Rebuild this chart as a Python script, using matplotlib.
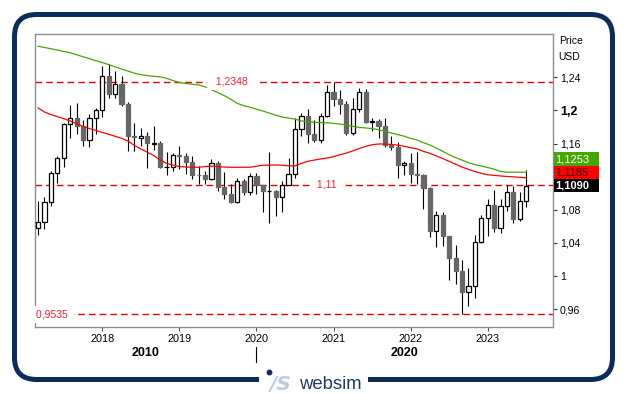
import matplotlib
matplotlib.use('Agg')
import matplotlib.pyplot as plt
from matplotlib.patches import FancyBboxPatch, Rectangle
from matplotlib.transforms import blended_transform_factory
import numpy as np

plt.rcParams['font.family'] = ['Liberation Sans', 'DejaVu Sans']

## monthly EUR/USD candles, Mar 2017 .. Jul 2023
start_year, start_month = 2017, 3
opens = [1.0575, 1.0652, 1.0896, 1.1244, 1.1426, 1.1841, 1.1909, 1.1813, 1.1645, 1.1903,
         1.2005, 1.2414, 1.2194, 1.2324, 1.2079, 1.1693, 1.1665, 1.1690, 1.1600, 1.1604, 1.1312, 1.1316,
         1.1467, 1.1445, 1.1372, 1.1217, 1.1214, 1.1169, 1.1370, 1.1076, 1.0988, 1.0899, 1.1152, 1.1017,
         1.1213, 1.1094, 1.1026, 1.1031, 1.0954, 1.1101, 1.1234, 1.1779, 1.1936, 1.1720, 1.1647, 1.1927,
         1.2217, 1.2136, 1.2075, 1.1728, 1.2018, 1.2227, 1.1858, 1.1870, 1.1809, 1.1578, 1.1559, 1.1338,
         1.1370, 1.1235, 1.1218, 1.1067, 1.0545, 1.0733, 1.0484, 1.0220, 1.0054, 0.9802, 0.9884, 1.0406,
         1.0705, 1.0863, 1.0576, 1.0839, 1.1017, 1.0690, 1.0909]
highs = [1.0906, 1.0950, 1.1268, 1.1446, 1.1846, 1.2070, 1.2092, 1.1880, 1.1961, 1.2023,
         1.2537, 1.2556, 1.2476, 1.2414, 1.2097, 1.1852, 1.1791, 1.1734, 1.1815, 1.1625, 1.1500, 1.1486,
         1.1570, 1.1489, 1.1448, 1.1324, 1.1265, 1.1412, 1.1390, 1.1250, 1.1109, 1.1179, 1.1175, 1.1240,
         1.1239, 1.1096, 1.1496, 1.1038, 1.1147, 1.1422, 1.1909, 1.1966, 1.2011, 1.1881, 1.1965, 1.2310,
         1.2349, 1.2243, 1.2113, 1.2150, 1.2266, 1.2254, 1.1909, 1.1901, 1.1909, 1.1692, 1.1616, 1.1386,
         1.1483, 1.1495, 1.1233, 1.1076, 1.0787, 1.0774, 1.0488, 1.0368, 1.0198, 1.0094, 1.0497, 1.0736,
         1.0929, 1.1033, 1.0930, 1.1095, 1.1092, 1.1012, 1.1276]
lows = [1.0494, 1.0569, 1.0839, 1.1118, 1.1312, 1.1662, 1.1717, 1.1574, 1.1554, 1.1717,
        1.1916, 1.2155, 1.2154, 1.2055, 1.1510, 1.1508, 1.1575, 1.1301, 1.1527, 1.1302, 1.1216, 1.1269,
        1.1289, 1.1234, 1.1176, 1.1111, 1.1107, 1.1160, 1.1026, 1.0926, 1.0879, 1.0879, 1.0981, 1.0981,
        1.0992, 1.0778, 1.0636, 1.0727, 1.0767, 1.1098, 1.1185, 1.1696, 1.1612, 1.1622, 1.1603, 1.1925,
        1.2054, 1.1952, 1.1704, 1.1704, 1.1986, 1.1847, 1.1752, 1.1664, 1.1563, 1.1524, 1.1186, 1.1222,
        1.1121, 1.1106, 1.0806, 1.0471, 1.0349, 1.0359, 0.9952, 0.9901, 0.9535, 0.9632, 0.9730, 1.0393,
        1.0483, 1.0533, 1.0516, 1.0788, 1.0635, 1.0662, 1.0833]
closes = [1.0652, 1.0896, 1.1244, 1.1426, 1.1841, 1.1909, 1.1813, 1.1645, 1.1903, 1.2005,
          1.2414, 1.2194, 1.2324, 1.2079, 1.1693, 1.1684, 1.1690, 1.1603, 1.1604, 1.1312, 1.1316, 1.1467,
          1.1445, 1.1372, 1.1217, 1.1214, 1.1169, 1.1370, 1.1076, 1.0988, 1.0899, 1.1152, 1.1017, 1.1213,
          1.1094, 1.1026, 1.1031, 1.0954, 1.1101, 1.1234, 1.1779, 1.1936, 1.1720, 1.1647, 1.1927, 1.2217,
          1.2136, 1.2075, 1.1728, 1.2018, 1.2227, 1.1858, 1.1870, 1.1809, 1.1578, 1.1559, 1.1338, 1.1370,
          1.1235, 1.1218, 1.1067, 1.0545, 1.0733, 1.0484, 1.0220, 1.0054, 0.9802, 0.9884, 1.0406, 1.0705,
          1.0863, 1.0576, 1.0839, 1.1017, 1.0690, 1.0909, 1.1090]

## moving averages (one value per candle)
ma_long = [1.2775, 1.2760, 1.2745, 1.2728, 1.2712, 1.2697, 1.2673, 1.2648, 1.2625, 1.2600,
           1.2578, 1.2553, 1.2527, 1.2500, 1.2475, 1.2450, 1.2432, 1.2420, 1.2412, 1.2406, 1.2388, 1.2360,
           1.2337, 1.2325, 1.2316, 1.2308, 1.2285, 1.2250, 1.2215, 1.2178, 1.2135, 1.2085, 1.2058, 1.2038,
           1.2015, 1.1993, 1.1967, 1.1942, 1.1920, 1.1907, 1.1895, 1.1873, 1.1862, 1.1858, 1.1853, 1.1849,
           1.1843, 1.1835, 1.1822, 1.1808, 1.1795, 1.1788, 1.1780, 1.1767, 1.1748, 1.1726, 1.1708, 1.1688,
           1.1662, 1.1643, 1.1610, 1.1582, 1.1545, 1.1505, 1.1465, 1.1430, 1.1400, 1.1368, 1.1345, 1.1328,
           1.1310, 1.1290, 1.1262, 1.1253, 1.1253, 1.1253, 1.1253]
ma_short = [1.2030, 1.1980, 1.1950, 1.1925, 1.1900, 1.1873, 1.1840, 1.1806, 1.1780, 1.1758,
            1.1733, 1.1712, 1.1687, 1.1663, 1.1630, 1.1577, 1.1535, 1.1495, 1.1455, 1.1400, 1.1360, 1.1340,
            1.1322, 1.1316, 1.1313, 1.1313, 1.1322, 1.1327, 1.1320, 1.1315, 1.1313, 1.1313, 1.1313, 1.1313,
            1.1325, 1.1337, 1.1339, 1.1340, 1.1338, 1.1330, 1.1329, 1.1360, 1.1385, 1.1400, 1.1413, 1.1425,
            1.1440, 1.1465, 1.1484, 1.1510, 1.1540, 1.1565, 1.1585, 1.1594, 1.1594, 1.1588, 1.1580, 1.1567,
            1.1550, 1.1535, 1.1505, 1.1482, 1.1450, 1.1418, 1.1385, 1.1350, 1.1315, 1.1288, 1.1262, 1.1240,
            1.1222, 1.1215, 1.1208, 1.1202, 1.1197, 1.1192, 1.1185]

levels = [1.2348, 1.11, 0.9535]
level_labels = ['1,2348', '1,11', '0,9535']
year_ticks = [2018, 2019, 2020, 2021, 2022, 2023]
price_ticks = [0.96, 1.0, 1.04, 1.08, 1.16, 1.2, 1.24]
price_labels = ['0,96', '1', '1,04', '1,08', '1,16', '1,2', '1,24']
decade_labels = ['2010', '2020']

navy = '#0c2d5c'
green = '#44a800'
red = '#ff0000'

fig = plt.figure(figsize=(6.27, 3.94), dpi=100)
fig.patch.set_facecolor('white')
ax = fig.add_axes([35/627, (394-327)/394, 518/627, 293/394])

o = np.array(opens); h = np.array(highs); l = np.array(lows); c = np.array(closes)
t = start_year + (start_month - 1 + np.arange(len(o))) / 12.0
up = c >= o
body_lo = np.minimum(o, c)
body_h = np.maximum(np.abs(c - o), 0.0004)
w = 0.054

## wicks and bodies
ax.vlines(t, l, h, color='black', lw=0.8, zorder=2)
ax.bar(t[up], body_h[up], bottom=body_lo[up], width=w, facecolor='white',
       edgecolor='black', lw=0.9, zorder=3)
ax.bar(t[~up], body_h[~up], bottom=body_lo[~up], width=w, facecolor='#666666',
       edgecolor='#666666', lw=0.9, zorder=3)

## moving averages
ax.plot(t, ma_long, color=green, lw=0.9, zorder=4)
ax.plot(t, ma_short, color=red, lw=0.9, zorder=4)

## horizontal levels
for lev in levels:
    ax.axhline(lev, color='#e00000', lw=1.0, dashes=(4.8, 2.9), zorder=1.5)

lbl_kw = dict(color='#ff1a2a', fontsize=7.5, va='center', zorder=5,
              bbox=dict(boxstyle='square,pad=0.35', fc='white', ec='none'))
ax.text(2019.683, levels[0], '  ' + level_labels[0] + '  ', ha='center', **lbl_kw)
ax.text(2020.915, levels[1], ' ' + level_labels[1] + ' ', ha='center', **lbl_kw)
ax.text(0.002, levels[2], level_labels[2] + ' ', ha='left',
        transform=blended_transform_factory(ax.transAxes, ax.transData), **lbl_kw)

ax.set_xlim(2017.127, 2023.847)
ax.set_ylim(0.9383, 1.2923)

ax.set_xticks(year_ticks)
ax.set_xticklabels([str(y) for y in year_ticks])
ax.set_yticks(price_ticks)
ax.set_yticklabels(price_labels)
ax.yaxis.tick_right()
ax.tick_params(axis='y', direction='out', length=3, width=0.8, color='#333333',
               labelsize=7.6, pad=2)
ax.tick_params(axis='x', direction='out', length=3, width=0.8, color='#555555',
               labelsize=7.8, pad=2)
for lbl in ax.get_yticklabels():
    if lbl.get_text() == '1,2':
        lbl.set_fontweight('bold')
        lbl.set_fontsize(9)
for sp in ax.spines.values():
    sp.set_color('#8c8c99')
    sp.set_linewidth(1.0)

## overlay in image pixels for frame, logo and side labels
ov = fig.add_axes([0, 0, 1, 1], zorder=5)
ov.set_xlim(0, 627)
ov.set_ylim(394, 0)
ov.axis('off')
ov.patch.set_alpha(0)

def to_px(x, y):
    d = ax.transData.transform((x, y))
    return ov.transData.inverted().transform(d)

frame = FancyBboxPatch((14.5, 14.5), 598, 365, boxstyle='round,pad=0,rounding_size=22',
                       fc='none', ec=navy, lw=3.6)
ov.add_patch(frame)
ov.add_patch(Rectangle((259, 372), 109, 14, fc='white', ec='none', zorder=3))
ov.plot([269], [371.5], 'o', ms=3.2, color=navy, zorder=4)
ov.text(270, 389.5, '/S', fontsize=14.5, fontweight='heavy', style='italic',
        family=['DejaVu Sans'], color='#bccbdf', va='baseline', ha='left', zorder=4)
ov.text(299.5, 389.3, 'websim', fontsize=13.3, color='#1b3a6b', va='baseline',
        ha='left', zorder=4)

## price / currency header
ov.text(559, 41, 'Price', fontsize=7.5, va='center', ha='left')
ov.text(558, 57, 'USD', fontsize=7.5, va='center', ha='left')

## decade labels under the year ticks
x_left = to_px(2017.127, 1.0)[0]
x_mid = to_px(2020.0, 1.0)[0]
x_right = to_px(2023.847, 1.0)[0]
ov.plot([x_mid, x_mid], [347, 362], color='black', lw=0.8)
ov.text((x_left + x_mid) / 2, 353, decade_labels[0], fontsize=9, fontweight='bold',
        ha='center', va='center')
ov.text((x_mid + x_right) / 2, 353, decade_labels[1], fontsize=9, fontweight='bold',
        ha='center', va='center')

## current value boxes stacked upward from last close
box_h = 13.3
y_close = to_px(t[-1], closes[-1])[1]
boxes = [(closes[-1], 'black', 'white', 'bold'),
         (ma_short[-1], red, '#3a0000', 'normal'),
         (ma_long[-1], green, 'white', 'normal')]
for k, (val, fc, tc, fw) in enumerate(boxes):
    yc = y_close - k * box_h
    ov.add_patch(Rectangle((553.5, yc - box_h / 2), 45.5, box_h, fc=fc, ec='none'))
    ov.text(555, yc, ('%.4f' % val).replace('.', ','), fontsize=8, color=tc,
            fontweight=fw, va='center', ha='left')

fig.savefig('out.png', dpi=100, facecolor='white')
